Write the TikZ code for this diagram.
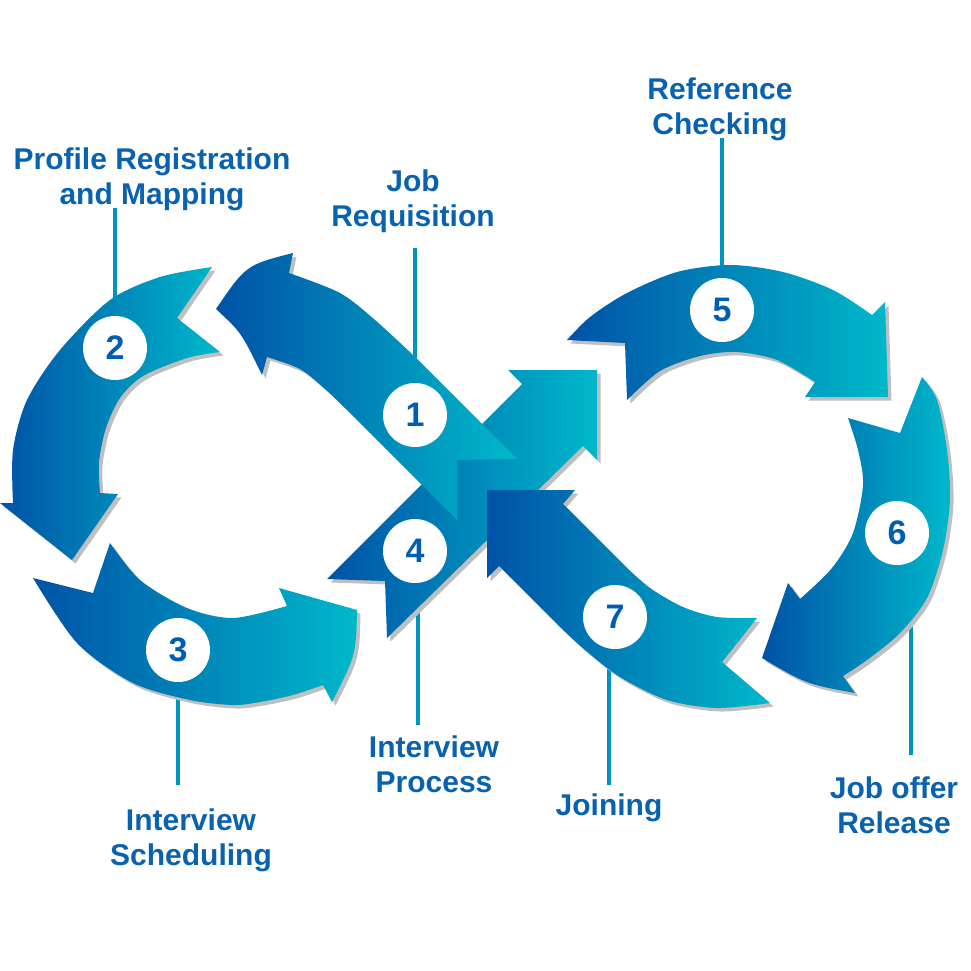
\documentclass[tikz,border=0pt]{standalone}
\usepackage{fontspec}
\setmainfont{Liberation Sans}
\usetikzlibrary{calc,backgrounds}
\definecolor{arrdark}{RGB}{0,82,166}
\definecolor{arrlight}{RGB}{0,184,202}
\definecolor{numblue}{RGB}{0,94,178}
\definecolor{labblue}{RGB}{8,98,176}
\definecolor{lineblue}{RGB}{0,148,196}
\def\arrowone{(517,459) -- (457,460) -- (457,520) -- (345,408)
    -- plot[smooth] coordinates {(345,408) (325,389) (300,369) (267,357)}
    -- (262,375) .. controls (241,332) .. (216,309) .. controls (246,265) .. (293,253) -- (289,273)
    -- plot[smooth] coordinates {(289,273) (340,293) (375,320) (413,355)} -- cycle}

\begin{document}
\begin{tikzpicture}[x=1pt,y=-1pt,
  shade/.style={left color=arrdark,right color=arrlight},
  arrowshadow/.style={fill=black!25,transform canvas={shift={(3.5,3.5)}}},
  arrowbody/.style={shade,preaction={arrowshadow}},
  numcirc/.style={circle,fill=white,minimum size=64pt,inner sep=0pt,text=numblue,
    font=\fontsize{34}{34}\selectfont\bfseries},
  lab/.style={align=center,inner sep=0pt,text=labblue,
    font=\fontsize{30}{35}\selectfont\bfseries},
  conn/.style={draw=lineblue,line width=4pt}]
  \useasboundingbox (0,0) rectangle (971,971);

  \path[arrowbody] plot[smooth] coordinates {(212,267) (160,277) (110,300) (60,350) (27,400) (13,450) (13,503)}
    -- (0,503) -- (72,560) -- (118,494) -- (100,493)
    -- plot[smooth] coordinates {(100,493) (99,462) (106,428) (120,398) (143,376) (187,358) (220,352)}
    -- (177,318) -- cycle;
  \path[arrowbody] plot[smooth] coordinates {(110,543) (140,580) (187,608) (233,618) (287,606)}
    -- (279,588) -- (357,610) .. controls (356,655) .. (332,702) -- (323,685)
    -- plot[smooth] coordinates {(323,685) (293,695) (260,702) (233,705) (190,700) (133,683) (77,643) (33,578)}
    -- (93,593) -- cycle;
  \path[arrowshadow] \arrowone;
  \path[arrowbody] (327,579) -- (522,384) -- (508,370) -- (597,370) -- (597,460) -- (583,446)
    -- (387,638) -- (385,581) -- cycle;
  \path[shade] \arrowone;
  \path[arrowbody] (487,490) -- (575,490) -- (563,504) -- (625,566)
    -- plot[smooth] coordinates {(625,566) (650,588) (683,607) (717,617) (757,618)}
    -- (722,662) -- (770,703)
    -- plot[smooth] coordinates {(770,703) (717,708) (667,700) (620,677) (585,650) (560,627)}
    -- (499,566) -- (487,578) -- cycle;
  \path[arrowbody] (567,340) -- (625,343) -- (627,400)
    -- plot[smooth] coordinates {(627,400) (660,371) (700,356) (737,352) (777,360) (815,382)}
    -- (805,397) -- (888,397) -- (885,302) -- (872,315)
    -- plot[smooth] coordinates {(872,315) (833,290) (783,272) (730,265) (677,272) (627,293) (590,317) (567,340)}
    -- cycle;
  \path[arrowbody] (848,418) -- (900,433) -- (922,377)
    -- plot[smooth] coordinates {(922,377) (937,400) (947,450) (950,500) (943,550) (927,598) (900,633) (867,660) (843,676)}
    -- (855,693) .. controls (806,684) .. (762,658) -- (788,583) -- (800,599)
    -- plot[smooth] coordinates {(800,599) (832,568) (853,533) (863,485) (858,450) (848,418)}
    -- cycle;

  \node[numcirc] (n1) at (415,415) {1};
  \node[numcirc] (n2) at (115,348) {2};
  \node[numcirc] (n3) at (178,650) {3};
  \node[numcirc] (n4) at (415,551) {4};
  \node[numcirc] (n5) at (722,310) {5};
  \node[numcirc] (n6) at (897,533) {6};
  \node[numcirc] (n7) at (615,617) {7};

  \node[lab] (l1) at (413,201) {Job\\Requisition};
  \node[lab] (l2) at (152,179) {Profile Registration\\and Mapping};
  \node[lab] (l3) at (191,840) {Interview\\Scheduling};
  \node[lab] (l4) at (434,764) {Interview\\Process};
  \node[lab] (l5) at (720,109) {Reference\\Checking};
  \node[lab] (l6) at (894,805) {Job offer\\Release};
  \node[lab] (l7) at (609,808) {Joining};

  \begin{scope}[on background layer]
    \draw[conn,shorten <=-3pt] (l2.south -| n2) -- (n2);
    \draw[conn,shorten <=15pt] (l1.south -| n1) -- (n1);
    \draw[conn,shorten <=-3pt] (l5.south -| n5) -- (n5);
    \draw[conn,shorten <=23pt] (l3.north -| n3) -- (n3);
    \draw[conn,shorten <=10pt] ($(l4.north -| n4)+(3,0)$) -- ($(n4)+(3,0)$);
    \draw[conn,shorten <=9pt] (l7.north) -- (l7.north |- n7);
    \draw[conn,shorten <=21pt] ($(l6.north -| n6)+(14,0)$) -- ($(n6)+(14,0)$);
  \end{scope}
\end{tikzpicture}
\end{document}
